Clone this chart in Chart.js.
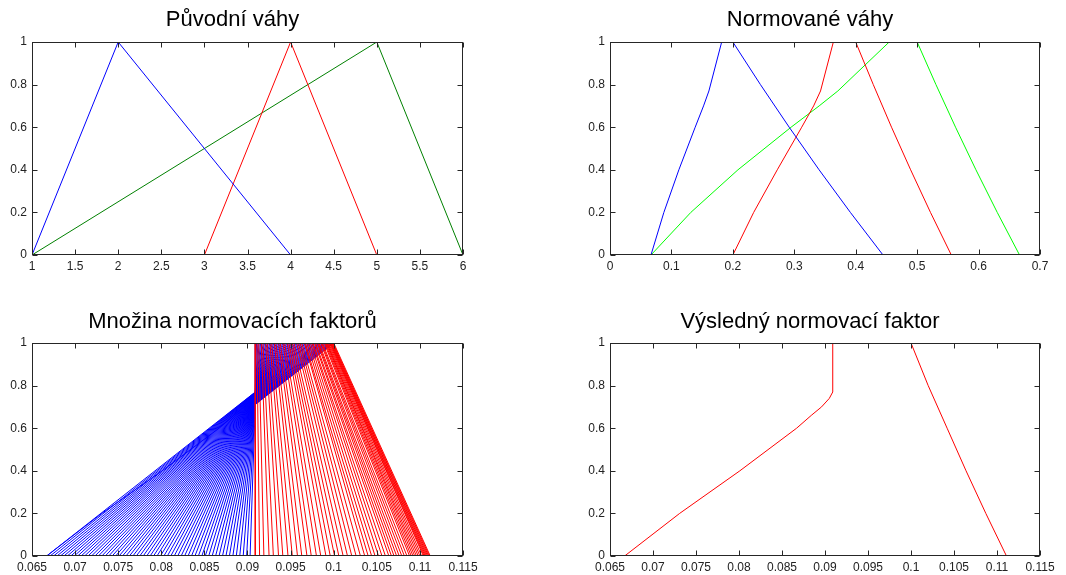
<!DOCTYPE html>
<html><head><meta charset="utf-8">
<script src="https://cdn.jsdelivr.net/npm/chart.js@4/dist/chart.umd.min.js"></script>
<style>
html,body{margin:0;padding:0;background:#fff;overflow:hidden;width:1066px;height:575px}
canvas{position:absolute}
</style></head><body>
<canvas id="c1" width="533" height="274" style="left:0;top:0"></canvas>
<canvas id="c2" width="533" height="274" style="left:533px;top:0"></canvas>
<canvas id="c3" width="533" height="274" style="left:0;top:301px"></canvas>
<canvas id="c4" width="533" height="274" style="left:533px;top:301px"></canvas>
<script>
// ---------- tick values / labels ----------
const yTicks = [0, 0.2, 0.4, 0.6, 0.8, 1];
const yLabels = ["0", "0.2", "0.4", "0.6", "0.8", "1"];
const x1Ticks = [1, 1.5, 2, 2.5, 3, 3.5, 4, 4.5, 5, 5.5, 6];
const x1Labels = ["1", "1.5", "2", "2.5", "3", "3.5", "4", "4.5", "5", "5.5", "6"];
const x2Ticks = [0, 0.1, 0.2, 0.3, 0.4, 0.5, 0.6, 0.7];
const x2Labels = ["0", "0.1", "0.2", "0.3", "0.4", "0.5", "0.6", "0.7"];
const x3Ticks = [0.065, 0.07, 0.075, 0.08, 0.085, 0.09, 0.095, 0.1, 0.105, 0.11, 0.115];
const x3Labels = ["0.065", "0.07", "0.075", "0.08", "0.085", "0.09", "0.095", "0.1", "0.105", "0.11", "0.115"];

// ---------- Původní váhy ----------
const origY = [0, 1, 0];
const origBlueX = [1, 2, 4];
const origRedX = [3, 4, 5];
const origGreenX = [1, 5, 6];

// ---------- Normované váhy ----------
const normY = [0, 0.2, 0.4, 0.6, 0.7, 0.77, 1, 1, 0.8, 0.6, 0.4, 0.2, 0];
const normBlueX = [0.0667, 0.0877, 0.1121, 0.1387, 0.1523, 0.1610, 0.1818, 0.2000, 0.2449, 0.2917, 0.3404, 0.3913, 0.4444];
const normRedX = [0.2000, 0.2339, 0.2723, 0.3121, 0.3315, 0.3427, 0.3636, 0.4000, 0.4286, 0.4583, 0.4894, 0.5217, 0.5556];
const normGreenX = [0.0667, 0.1316, 0.2083, 0.2948, 0.3405, 0.3709, 0.4545, 0.5000, 0.5306, 0.5625, 0.5957, 0.6304, 0.6667];

// ---------- Výsledný normovací faktor ----------
const factorY = [0, 0.2, 0.4, 0.6, 0.66, 0.7, 0.74, 0.77, 1, 1, 0.8, 0.6, 0.4, 0.2, 0];
const factorX = [0.0667, 0.0731, 0.0801, 0.0867, 0.0884, 0.0896, 0.0905, 0.0909, 0.0909, 0.1000, 0.1020, 0.1042, 0.1064, 0.1087, 0.1111];

// ---------- Množina normovacích faktorů ----------
const setKneeX = 0.0909;
const blueStartX = [0.0667, 0.0671, 0.0675, 0.0679, 0.0683, 0.0687, 0.0691, 0.0695, 0.0699, 0.0703,
  0.0707, 0.0711, 0.0715, 0.0719, 0.0723, 0.0727, 0.0731, 0.0735, 0.0739, 0.0743,
  0.0747, 0.0751, 0.0755, 0.0759, 0.0763, 0.0767, 0.0771, 0.0775, 0.0779, 0.0783,
  0.0787, 0.0791, 0.0795, 0.0799, 0.0803, 0.0807, 0.0811, 0.0815, 0.0819, 0.0823,
  0.0827, 0.0831, 0.0835, 0.0839, 0.0843, 0.0847, 0.0851, 0.0855, 0.0859, 0.0863,
  0.0867, 0.0871, 0.0875, 0.0879, 0.0883, 0.0887, 0.0891, 0.0895, 0.0899, 0.0903];
const blueKneeY = [0.770, 0.769, 0.768, 0.767, 0.766, 0.765, 0.764, 0.763, 0.762, 0.761,
  0.760, 0.759, 0.758, 0.757, 0.756, 0.755, 0.754, 0.753, 0.752, 0.751,
  0.750, 0.749, 0.748, 0.747, 0.746, 0.745, 0.744, 0.743, 0.742, 0.741,
  0.740, 0.739, 0.738, 0.737, 0.736, 0.735, 0.734, 0.733, 0.732, 0.731,
  0.730, 0.729, 0.728, 0.727, 0.726, 0.725, 0.724, 0.723, 0.722, 0.721,
  0.720, 0.719, 0.718, 0.717, 0.716, 0.715, 0.714, 0.713, 0.712, 0.711];
const blueTopX = [0.09090, 0.09105, 0.09121, 0.09136, 0.09152, 0.09167, 0.09183, 0.09198, 0.09213, 0.09229,
  0.09244, 0.09260, 0.09275, 0.09291, 0.09306, 0.09321, 0.09337, 0.09352, 0.09368, 0.09383,
  0.09398, 0.09414, 0.09429, 0.09445, 0.09460, 0.09476, 0.09491, 0.09506, 0.09522, 0.09537,
  0.09553, 0.09568, 0.09584, 0.09599, 0.09614, 0.09630, 0.09645, 0.09661, 0.09676, 0.09692,
  0.09707, 0.09722, 0.09738, 0.09753, 0.09769, 0.09784, 0.09799, 0.09815, 0.09830, 0.09846,
  0.09861, 0.09877, 0.09892, 0.09907, 0.09923, 0.09938, 0.09954, 0.09969, 0.09985, 0.10000];
const redTopX = [0.0909, 0.0911, 0.0913, 0.0916, 0.0918, 0.0921, 0.0923, 0.0926, 0.0928, 0.0931,
  0.0933, 0.0936, 0.0938, 0.0941, 0.0943, 0.0946, 0.0948, 0.0950, 0.0952, 0.0954,
  0.0957, 0.0959, 0.0961, 0.0963, 0.0966, 0.0967, 0.0969, 0.0971, 0.0973, 0.0975,
  0.0976, 0.0978, 0.0979, 0.0981, 0.0982, 0.0983, 0.0985, 0.0986, 0.0987, 0.0989,
  0.0990, 0.0991, 0.0992, 0.0992, 0.0993, 0.0994, 0.0995, 0.0996, 0.0996, 0.0997,
  0.0997, 0.0998, 0.0998, 0.0999, 0.0999, 0.1000];
const redBottomX = [0.0909, 0.0914, 0.0919, 0.0925, 0.0930, 0.0936, 0.0941, 0.0947, 0.0952, 0.0958,
  0.0963, 0.0969, 0.0974, 0.0980, 0.0985, 0.0991, 0.0996, 0.1001, 0.1006, 0.1011,
  0.1016, 0.1021, 0.1026, 0.1031, 0.1036, 0.1040, 0.1044, 0.1048, 0.1052, 0.1056,
  0.1060, 0.1064, 0.1067, 0.1070, 0.1073, 0.1076, 0.1079, 0.1082, 0.1085, 0.1088,
  0.1090, 0.1092, 0.1094, 0.1096, 0.1098, 0.1100, 0.1102, 0.1104, 0.1105, 0.1106,
  0.1107, 0.1108, 0.1109, 0.1110, 0.1111, 0.1112];

// ---------- helpers ----------
const FONT = "'Liberation Sans', Arial, Helvetica, sans-serif";
const BLUE = '#0000ff', RED = '#ff0000', DKGREEN = '#008000', GREEN = '#00ff00';
function pts(xs, ys) { return xs.map((x, i) => ({ x: x, y: ys[i] })); }
function line(data, color) {
  return { data: data, showLine: true, borderColor: color, backgroundColor: color,
    borderWidth: 1, pointRadius: 0, pointHoverRadius: 0, fill: false, tension: 0 };
}

const framePlugin = {
  id: 'frame',
  afterDraw(chart) {
    const { ctx, chartArea: a, scales } = chart;
    const x = scales.x, y = scales.y;
    ctx.save();
    ctx.strokeStyle = '#262626';
    ctx.lineWidth = 1;
    const L = Math.round(a.left) + 0.5, R = Math.round(a.right) - 0.5;
    const T = Math.round(a.top) + 0.5, B = Math.round(a.bottom) - 0.5;
    ctx.strokeRect(L, T, R - L, B - T);
    ctx.beginPath();
    const len = 5;
    x.ticks.forEach(t => {
      const px = Math.round(x.getPixelForValue(t.value)) + 0.5;
      ctx.moveTo(px, B); ctx.lineTo(px, B - len);
      ctx.moveTo(px, T); ctx.lineTo(px, T + len);
    });
    y.ticks.forEach(t => {
      const py = Math.round(y.getPixelForValue(t.value)) + 0.5;
      ctx.moveTo(L, py); ctx.lineTo(L + len, py);
      ctx.moveTo(R, py); ctx.lineTo(R - len, py);
    });
    ctx.stroke();
    ctx.restore();
  }
};

function makeChart(id, datasets, xMin, xMax, xTicks, xLabels, titleText, padL, padR, titleTop) {
  return new Chart(document.getElementById(id), {
    type: 'scatter',
    data: { datasets: datasets },
    options: {
      responsive: false, animation: false, devicePixelRatio: 1,
      events: [],
      layout: { padding: { left: padL, right: padR, top: 0, bottom: 0 } },
      plugins: {
        legend: { display: false }, tooltip: { enabled: false },
        title: { display: true, text: titleText, color: '#000',
          font: { family: FONT, size: 22, weight: 'normal', lineHeight: 1.2 },
          padding: { top: titleTop, bottom: 42 - titleTop - 26.4 } }
      },
      scales: {
        x: { type: 'linear', min: xMin, max: xMax,
          grid: { display: false, drawTicks: false }, border: { display: false },
          afterBuildTicks: s => { s.ticks = xTicks.map(v => ({ value: v })); },
          afterFit: s => { s.height = 19; },
          ticks: { callback: (v, i) => xLabels[i], padding: 4, color: '#222', autoSkip: false,
            maxRotation: 0, minRotation: 0, font: { family: FONT, size: 12 } } },
        y: { type: 'linear', min: 0, max: 1,
          grid: { display: false, drawTicks: false }, border: { display: false },
          afterBuildTicks: s => { s.ticks = yTicks.map(v => ({ value: v })); },
          afterFit: s => { s.width = 30; },
          ticks: { callback: (v, i) => yLabels[i], padding: 5, color: '#222', autoSkip: false,
            font: { family: FONT, size: 12 } } }
      }
    },
    plugins: [framePlugin]
  });
}

// Chart 1
makeChart('c1', [
  line(pts(origBlueX, origY), BLUE),
  line(pts(origRedX, origY), RED),
  line(pts(origGreenX, origY), DKGREEN)
], 1, 6, x1Ticks, x1Labels, 'Původní váhy', 2, 70, 7);

// Chart 2
makeChart('c2', [
  line(pts(normBlueX, normY), BLUE),
  line(pts(normRedX, normY), RED),
  line(pts(normGreenX, normY), GREEN)
], 0, 0.7, x2Ticks, x2Labels, 'Normované váhy', 47, 26, 7);

// Chart 3
const set3 = [];
redTopX.forEach((t, k) => {
  set3.push(line([{ x: t, y: 1 }, { x: redBottomX[k], y: 0 }], RED));
});
set3.push(line(pts(factorX.slice(0, 9), factorY.slice(0, 9)), BLUE));
blueStartX.forEach((a, k) => {
  set3.push(line([{ x: a, y: 0 }, { x: setKneeX, y: blueKneeY[k] }, { x: blueTopX[k], y: 1 }], BLUE));
});
makeChart('c3', set3, 0.065, 0.115, x3Ticks, x3Labels, 'Množina normovacích faktorů', 2, 70, 8);

// Chart 4
makeChart('c4', [
  line(pts(factorX, factorY), RED)
], 0.065, 0.115, x3Ticks, x3Labels, 'Výsledný normovací faktor', 47, 26, 8);
</script>
</body></html>
